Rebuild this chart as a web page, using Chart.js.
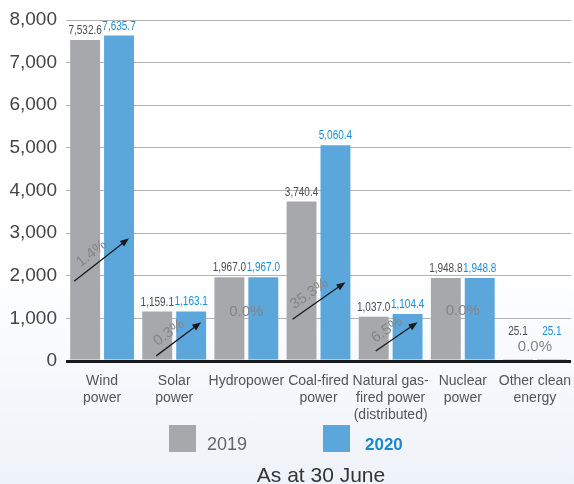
<!DOCTYPE html>
<html lang="en">
<head>
  <meta charset="UTF-8" />
  <title>Installed capacity by type</title>
  <script src="https://cdn.jsdelivr.net/npm/chart.js"></script>
  <style>
    body {
      margin: 0;
      background: linear-gradient(to bottom, #ffffff 0, #ffffff 260px, #eef3f9 484px);
      font-family: "Liberation Sans", Arial, sans-serif;
    }

    #wrap {
      width: 574px;
      height: 484px;
    }
  </style>
</head>
<body>
  <div id="wrap">
    <canvas id="capacityChart" width="574" height="484"></canvas>
  </div>

  <script>
    const categories = [
      ["Wind", "power"],
      ["Solar", "power"],
      ["Hydropower"],
      ["Coal-fired", "power"],
      ["Natural gas-", "fired power", "(distributed)"],
      ["Nuclear", "power"],
      ["Other clean", "energy"]
    ];
    const values2019 = [7532.6, 1159.1, 1967.0, 3740.4, 1037.0, 1948.8, 25.1];
    const values2020 = [7635.7, 1163.1, 1967.0, 5060.4, 1104.4, 1948.8, 25.1];
    const growthLabels = ["1.4%", "0.3%", "0.0%", "35.3%", "6.5%", "0.0%", "0.0%"];
    const yTicks = [0, 1000, 2000, 3000, 4000, 5000, 6000, 7000, 8000];
    const seriesNames = ["2019", "2020"];

    // growth arrows run between these heights (capacity units); null = no change
    const arrowFrom = [1870, 120, null, 980, 235, null, null];
    const arrowTo = [2880, 910, null, 1850, 910, null, null];
    // height at which the flat "0.0%" notes sit
    const flatLabelAt = [null, null, 1150, null, null, 1170, 330];

    const GREY = "#a7a8ab";
    const BLUE = "#5ba7dc";
    const fmt = v => v.toLocaleString("en-US", { minimumFractionDigits: 1, maximumFractionDigits: 1 });

    function drawArrow(ctx, x1, y1, x2, y2) {
      const ang = Math.atan2(y2 - y1, x2 - x1);
      const head = 9, half = 3.5;
      ctx.save();
      ctx.strokeStyle = "#1a1a1a";
      ctx.fillStyle = "#1a1a1a";
      ctx.lineWidth = 1.3;
      ctx.beginPath();
      ctx.moveTo(x1, y1);
      ctx.lineTo(x2 - Math.cos(ang) * head * 0.8, y2 - Math.sin(ang) * head * 0.8);
      ctx.stroke();
      ctx.translate(x2, y2);
      ctx.rotate(ang);
      ctx.beginPath();
      ctx.moveTo(0, 0);
      ctx.lineTo(-head, -half);
      ctx.lineTo(-head, half);
      ctx.closePath();
      ctx.fill();
      ctx.restore();
    }

    // condensed look: squeeze regular text horizontally
    function narrowText(ctx, text, x, y, squeeze) {
      ctx.save();
      ctx.translate(x, y);
      ctx.scale(squeeze, 1);
      ctx.fillText(text, 0, 0);
      ctx.restore();
    }

    const annotations = {
      id: "annotations",
      afterDatasetsDraw(chart, args, opts) {
        const ctx = chart.ctx;
        const y = chart.scales.y;
        const x = chart.scales.x;
        const m19 = chart.getDatasetMeta(0).data;
        const m20 = chart.getDatasetMeta(1).data;

        // value labels above the bars
        ctx.save();
        ctx.font = '12.5px "Liberation Sans", Arial, sans-serif';
        ctx.textAlign = "center";
        ctx.textBaseline = "alphabetic";
        const floorY = y.getPixelForValue(opts.labelFloor);
        [[m19, values2019, "#4d4d4d"], [m20, values2020, "#1a8fd8"]].forEach(([bars, vals, col]) => {
          ctx.fillStyle = col;
          bars.forEach((b, i) => {
            narrowText(ctx, fmt(vals[i]), b.x, Math.min(b.y, floorY) - 6, 0.8);
          });
        });
        ctx.restore();

        // growth notes
        ctx.save();
        ctx.font = '15px "Liberation Sans", Arial, sans-serif';
        ctx.fillStyle = "#858585";
        ctx.textAlign = "center";
        ctx.textBaseline = "middle";
        growthLabels.forEach((lab, i) => {
          if (arrowFrom[i] !== null) {
            const x1 = m19[i].x + opts.startShift[i];
            const x2 = m20[i].x + 10;
            const y1 = y.getPixelForValue(arrowFrom[i]);
            const y2 = y.getPixelForValue(arrowTo[i]);
            const len = Math.hypot(x2 - x1, y2 - y1);
            const ux = (x2 - x1) / len, uy = (y2 - y1) / len;
            const tx = (x1 + x2) / 2 + uy * 11 - ux * 4;
            const ty = (y1 + y2) / 2 - ux * 11 - uy * 4;
            ctx.save();
            ctx.translate(tx, ty);
            ctx.rotate(Math.atan2(uy, ux));
            ctx.fillText(lab, 0, 0);
            ctx.restore();
            drawArrow(ctx, x1, y1, x2, y2);
          } else {
            ctx.fillText(lab, x.getPixelForValue(i), y.getPixelForValue(flatLabelAt[i]));
          }
        });
        ctx.restore();
      },
      afterDraw(chart) {
        const ctx = chart.ctx;
        ctx.save();
        // legend
        ctx.fillStyle = GREY;
        ctx.fillRect(169, 425, 27, 27);
        ctx.fillStyle = BLUE;
        ctx.fillRect(323, 425, 27, 27);
        ctx.textBaseline = "alphabetic";
        ctx.textAlign = "left";
        ctx.font = '18px "Liberation Sans", Arial, sans-serif';
        ctx.fillStyle = "#666666";
        ctx.fillText(seriesNames[0], 207, 450);
        ctx.font = 'bold 17px "Liberation Sans", Arial, sans-serif';
        ctx.fillStyle = "#1a88cc";
        ctx.fillText(seriesNames[1], 365, 450);
        // footnote
        ctx.font = '21px "Liberation Sans", Arial, sans-serif';
        ctx.fillStyle = "#333333";
        ctx.textAlign = "center";
        ctx.fillText("As at 30 June", 321, 482);
        ctx.restore();
      }
    };

    new Chart(document.getElementById("capacityChart"), {
      type: "bar",
      data: {
        labels: categories,
        datasets: [
          { label: seriesNames[0], data: values2019, backgroundColor: GREY },
          { label: seriesNames[1], data: values2020, backgroundColor: BLUE }
        ]
      },
      options: {
        responsive: false,
        animation: false,
        datasets: {
          bar: { barPercentage: 0.882, categoryPercentage: 0.94 }
        },
        layout: { padding: { top: 20, right: 3, left: 0, bottom: 0 } },
        plugins: {
          legend: { display: false },
          tooltip: { enabled: false },
          annotations: {
            labelFloor: 470,
            startShift: [-11, -1, 0, -9, 2, 0, 0]
          }
        },
        scales: {
          x: {
            grid: { display: false, drawTicks: false },
            border: { display: false },
            ticks: {
              padding: 12,
              color: "#555555",
              font: { family: '"Liberation Sans", Arial, sans-serif', size: 14, lineHeight: "17px" },
              maxRotation: 0,
              autoSkip: false
            },
            afterFit(scale) {
              scale.height = 123;
              scale.paddingLeft = 0;
              scale.paddingRight = 0;
            }
          },
          y: {
            min: 0,
            max: 8000,
            afterBuildTicks(scale) { scale.ticks = yTicks.map(v => ({ value: v })); },
            grid: {
              drawTicks: false,
              color: ctx => ctx.tick && ctx.tick.value === 0 ? "#1a1a1a" : "#b3b3b3",
              lineWidth: ctx => ctx.tick && ctx.tick.value === 0 ? 3 : 1
            },
            border: { display: false },
            ticks: {
              padding: 9,
              color: "#444444",
              font: { family: '"Liberation Sans", Arial, sans-serif', size: 19 },
              callback: v => v.toLocaleString("en-US")
            },
            afterFit(scale) {
              scale.width = 66;
              scale.paddingTop = 0;
              scale.paddingBottom = 0;
            }
          }
        }
      },
      plugins: [annotations]
    });
  </script>
</body>
</html>
